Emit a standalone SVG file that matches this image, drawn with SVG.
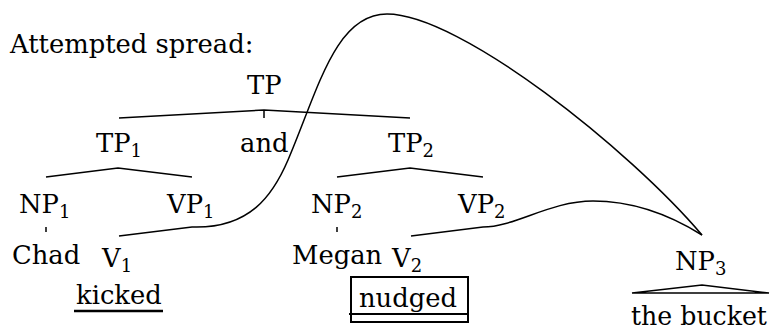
<svg xmlns="http://www.w3.org/2000/svg" width="772" height="330" viewBox="0 0 772 330">
<style>
text{font-family:"DejaVu Serif","Liberation Serif",serif;font-size:25.8px;fill:#000}
.sub{font-size:18px}
.ln{fill:none;stroke:#000;stroke-width:1.5}
.thick{fill:none;stroke:#000;stroke-width:2.5}
</style>
<rect width="772" height="330" fill="#fff"/>
<g id="title"><text x="10" y="53">Attempted spread:</text></g>
<g id="TP"><text x="247" y="94">TP</text></g>
<g id="TP1"><text x="96" y="152">TP<tspan class="sub" dy="5">1</tspan></text></g>
<g id="and"><text x="240" y="152">and</text></g>
<g id="TP2"><text x="388" y="152">TP<tspan class="sub" dy="5">2</tspan></text></g>
<g id="NP1"><text x="19" y="213">NP<tspan class="sub" dy="5">1</tspan></text></g>
<g id="VP1"><text x="167" y="213">VP<tspan class="sub" dy="5">1</tspan></text></g>
<g id="NP2"><text x="311" y="213">NP<tspan class="sub" dy="5">2</tspan></text></g>
<g id="VP2"><text x="458" y="213">VP<tspan class="sub" dy="5">2</tspan></text></g>
<g id="Chad"><text x="12" y="264">Chad</text></g>
<g id="V1"><text x="102" y="267">V<tspan class="sub" dy="5">1</tspan></text></g>
<g id="Megan"><text x="292" y="264">Megan</text></g>
<g id="V2"><text x="392" y="267">V<tspan class="sub" dy="5">2</tspan></text></g>
<g id="NP3"><text x="675" y="270">NP<tspan class="sub" dy="5">3</tspan></text></g>
<g id="kicked"><text x="76" y="304">kicked</text><line class="thick" x1="74" y1="311" x2="163" y2="311"/></g>
<g id="nudged"><text x="359" y="306.5">nudged</text><rect x="351" y="277" width="117" height="45" fill="none" stroke="#000" stroke-width="2"/><line x1="349" y1="314" x2="468" y2="314" stroke="#000" stroke-width="2"/></g>
<g id="thebucket"><text x="631" y="325" textLength="136" lengthAdjust="spacingAndGlyphs">the bucket</text><path class="ln" d="M632 293 L702 285 L769 293 Z"/></g>
<g id="connectors">
<path class="ln" d="M119 118 L264 110 L410 118 M264 110 L264 118"/>
<path class="ln" d="M46 177 L118 168 L192 177"/>
<path class="ln" d="M337 177 L410 168 L483 177"/>
<path class="ln" d="M46 227 L46 232 M337 227 L337 232"/>
<path class="ln" d="M119 236 L192 227 C250 229 273 195 288 160 C318 90 335 14 387 14 C460 14 630 150 702 235"/>
<path class="ln" d="M411 236 L483 227 C515 227 550 201 593 201 C635 201 670 215 702 235"/>
</g>
</svg>
